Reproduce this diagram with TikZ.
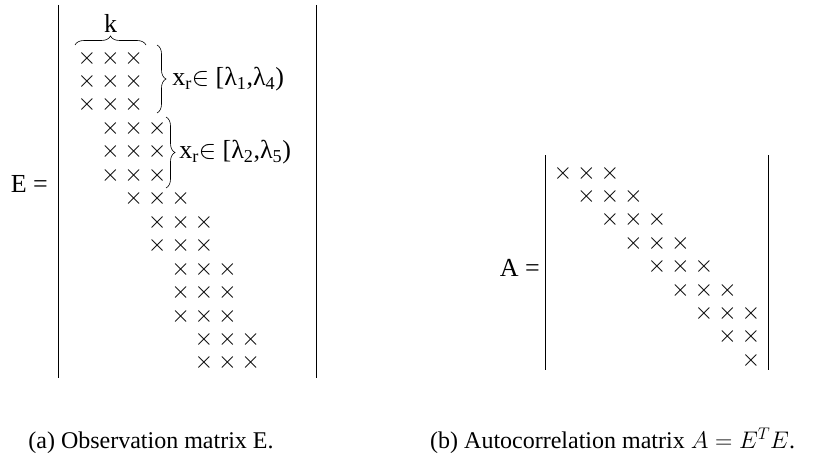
\RequirePackage{fix-cm}
\documentclass[tikz,border=0pt]{standalone}
\usepackage{fontspec}
\setmainfont{Liberation Serif}
\usetikzlibrary{decorations.pathreplacing,positioning}

\begin{document}
\begin{tikzpicture}[x=1pt, y=-1pt,
    entry/.style={inner sep=0pt, font=\fontsize{24}{24}\selectfont},
    lbl/.style={inner sep=0pt, font=\fontsize{26}{30}\selectfont},
    capt/.style={inner sep=0pt, font=\fontsize{24}{28}\selectfont},
    bar/.style={line width=0.9pt},
    brc/.style={decorate, decoration={brace, amplitude=9pt}, line width=0.6pt},
  ]
  \useasboundingbox (0,0) rectangle (840,460);

  % Observation matrix E (band shifted every block)
  \foreach \r/\s in {0/0,1/0,2/0,3/1,4/1,5/1,6/2,7/3,8/3,9/4,10/4,11/4,12/5,13/5}
    \foreach \c in {0,1,2}
      \node[entry] (e-\r-\c) at ({87+23.4*(\s+\c)}, {58+23.46*\r}) {$\times$};

  \node[lbl, anchor=base east] (elbl) at (48,192) {E =};
  \coordinate (el-t) at (58,5);   \coordinate (el-b) at (58,378);
  \coordinate (er-t) at (316,5);  \coordinate (er-b) at (316,378);
  \draw[bar] (el-t) -- (el-b);
  \draw[bar] (er-t) -- (er-b);

  % Braces
  \coordinate (k-l) at (75,45);   \coordinate (k-r) at (146,45);
  \draw[brc] (k-l) -- node[lbl, above=12pt] (k) {k} (k-r);
  \coordinate (b1-t) at (157,45); \coordinate (b1-b) at (157,113);
  \draw[brc] (b1-t) -- node[lbl, right=15pt] (x1) {x\textsubscript{r}$\in$ [λ\textsubscript{1},λ\textsubscript{4})} (b1-b);
  \coordinate (b2-t) at (166,117); \coordinate (b2-b) at (166,188);
  \draw[brc] (b2-t) -- node[lbl, right=13pt] (x2) {x\textsubscript{r}$\in$ [λ\textsubscript{2},λ\textsubscript{5})} (b2-b);

  % Autocorrelation matrix A
  \foreach \r in {0,...,8}
    \foreach \c in {0,1,2} {
      \pgfmathtruncatemacro\j{\r+\c}
      \ifnum\j<9
        \node[entry] (a-\r-\c) at ({563+23.5*\j}, {173+23.4*\r}) {$\times$};
      \fi
    }

  \node[lbl, anchor=base east] (albl) at (540,276) {A =};
  \coordinate (al-t) at (545,155); \coordinate (al-b) at (545,370);
  \coordinate (ar-t) at (768,155); \coordinate (ar-b) at (768,370);
  \draw[bar] (al-t) -- (al-b);
  \draw[bar] (ar-t) -- (ar-b);

  % Captions
  \node[capt, anchor=base] (capa) at (151,448) {(a) Observation matrix E.};
  \node[capt, anchor=base west] (capb) at (430,448) {(b) Autocorrelation matrix $A = E^T E$.};
\end{tikzpicture}
\end{document}
